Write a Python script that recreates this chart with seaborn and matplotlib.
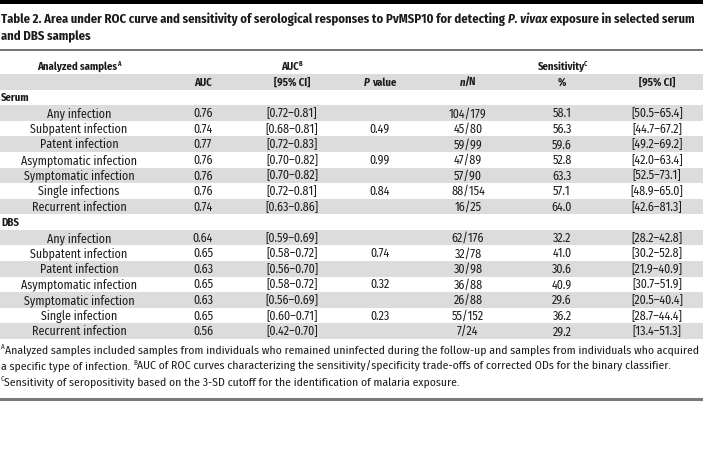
import matplotlib
matplotlib.use("Agg")
import matplotlib.pyplot as plt
from matplotlib import font_manager as fm
import seaborn as sns
import pandas as pd

# Table values
row_labels = ['Any infection', 'Subpatent infection', 'Patent infection',
              'Asymptomatic infection', 'Symptomatic infection']
serum_labels = row_labels + ['Single infections', 'Recurrent infection']
dbs_labels = row_labels + ['Single infection', 'Recurrent infection']

serum_auc = ['0.76', '0.74', '0.77', '0.76', '0.76', '0.76', '0.74']
serum_auc_ci = ['[0.72–0.81]', '[0.68–0.81]', '[0.72–0.83]', '[0.70–0.82]',
                '[0.70–0.82]', '[0.72–0.81]', '[0.63–0.86]']
serum_p = ['', '0.49', '', '0.99', '', '0.84', '']
serum_nN = ['104/179', '45/80', '59/99', '47/89', '57/90', '88/154', '16/25']
serum_pct = ['58.1', '56.3', '59.6', '52.8', '63.3', '57.1', '64.0']
serum_sens_ci = ['[50.5–65.4]', '[44.7–67.2]', '[49.2–69.2]', '[42.0–63.4]',
                 '[52.5–73.1]', '[48.9–65.0]', '[42.6–81.3]']

dbs_auc = ['0.64', '0.65', '0.63', '0.65', '0.63', '0.65', '0.56']
dbs_auc_ci = ['[0.59–0.69]', '[0.58–0.72]', '[0.56–0.70]', '[0.58–0.72]',
              '[0.56–0.69]', '[0.60–0.71]', '[0.42–0.70]']
dbs_p = ['', '0.74', '', '0.32', '', '0.23', '']
dbs_nN = ['62/176', '32/78', '30/98', '36/88', '26/88', '55/152', '7/24']
dbs_pct = ['32.2', '41.0', '30.6', '40.9', '29.6', '36.2', '29.2']
dbs_sens_ci = ['[28.2–42.8]', '[30.2–52.8]', '[21.9–40.9]', '[30.7–51.9]',
               '[20.5–40.4]', '[28.7–44.4]', '[13.4–51.3]']

footnotes = [
    [('A', 'sup'), ('Analyzed samples included samples from individuals who remained uninfected during the follow-up and samples from individuals who acquired', '')],
    [('a specific type of infection. ', ''), ('B', 'sup'), ('AUC of ROC curves characterizing the sensitivity/specificity trade-offs of corrected ODs for the binary classifier.', '')],
    [('C', 'sup'), ('Sensitivity of seropositivity based on the 3-SD cutoff for the identification of malaria exposure.', '')],
]

sns.set_theme(style="white")

# narrow font, closest to the journal face
names = {f.name for f in fm.fontManager.ttflist}
family = 'DejaVu Sans'
for cand in ['Fira Sans Condensed', 'Barlow Semi Condensed', 'Encode Sans Condensed',
             'Asap Condensed', 'Archivo Narrow', 'Liberation Sans Narrow', 'Roboto']:
    if cand in names:
        family = cand
        break
plt.rcParams['font.family'] = [family, 'DejaVu Sans']

ink = '#1c1c1c'
band = '#dcdcdc'

fig = plt.figure(figsize=(7.03, 4.51), dpi=100)
ax = fig.add_axes([0, 0, 1, 1])
ax.set_xlim(0, 703)
ax.set_ylim(451, 0)
ax.axis('off')
fig.canvas.draw()
rend = fig.canvas.get_renderer()


def width(txt, size, weight='normal', style='normal'):
    t = ax.text(0, 0, txt, fontsize=size, fontweight=weight, fontstyle=style)
    w = t.get_window_extent(rend).width
    t.remove()
    return w


def fit(txt, target, weight='normal', style='normal'):
    return 10 * target / width(txt, 10, weight, style)


def rich(x, y, runs, size, weight='normal', ha='left'):
    # y is the visual middle of the capitals
    px = size * 100 / 72
    base = y + 0.345 * px
    sp = width('a a', size, weight) - width('aa', size, weight)
    parts = []
    for run in runs:
        txt, kind = run[0], run[1]
        kern = run[2] if len(run) > 2 else 0
        s = size * 0.6 if kind == 'sup' else size
        st = 'italic' if kind == 'it' else 'normal'
        core = txt.strip(' ')
        lead = len(txt) - len(txt.lstrip(' '))
        trail = len(txt) - len(txt.rstrip(' '))
        w = width(core, s, weight, st) if core else 0
        parts.append((core, s, st, kind, lead * sp + kern, w, trail * sp))
    total = sum(p[4] + p[5] + p[6] for p in parts)
    cur = x - total / 2 if ha == 'center' else x
    for core, s, st, kind, lw, w, tw in parts:
        cur += lw
        dy = -0.42 * px if kind == 'sup' else 0
        if core:
            ax.text(cur, base + dy, core, fontsize=s, fontweight=weight, fontstyle=st,
                    color=ink, ha='left', va='baseline')
        cur += w + tw


# font sizes fitted to the reference widths
title_size = fit('Table 2. Area under ROC curve and sensitivity of serological responses to PvMSP10 for detecting P. vivax exposure in selected serum', 694, 'bold')
body_size = fit('Asymptomatic infection', 116)
head_size = fit('Analyzed samples', 80, 'bold')
foot_size = fit('Analyzed samples included samples from individuals who remained uninfected during the follow-up and samples from individuals who acquired', 690)

# rules
ax.axhspan(0, 4, color='black', lw=0)
ax.axhline(50, color='#6a6a6a', lw=1.3)
ax.axhline(398.5, color='#7a7a7a', lw=2.2)

# title
rich(1, 19, [('Table 2. Area under ROC curve and sensitivity of serological responses to PvMSP10 for detecting ', ''),
             ('P. vivax', 'it'), (' exposure in selected serum', '')], title_size, 'bold')
rich(1, 36, [('and DBS samples', '')], title_size, 'bold')

# columns
cols_x = [203, 292, 380, 468, 562, 657]
label_x = 79
pitch = (331 - 82) / 16
row_y = [82 + i * pitch for i in range(17)]
head1_y = 82 - pitch

for i in range(0, 17, 2):
    ax.axhspan(row_y[i] - pitch / 2, row_y[i] + pitch / 2, color=band, lw=0, zorder=0)

rich(label_x, head1_y, [('Analyzed samples', ''), ('A', 'sup')], head_size, 'bold', 'center')
rich((cols_x[0] + cols_x[2]) / 2, head1_y, [('AUC', ''), ('B', 'sup')], head_size, 'bold', 'center')
rich((cols_x[3] + cols_x[5]) / 2, head1_y, [('Sensitivity', ''), ('C', 'sup', -2)], head_size, 'bold', 'center')

head2 = [[('AUC', '')], [('[95% CI]', '')], [('P', 'it'), (' value', '')],
         [('n', 'it'), ('/N', '', -1.5)], [('%', '')], [('[95% CI]', '')]]
for cx, runs in zip(cols_x, head2):
    rich(cx, row_y[0], runs, head_size, 'bold', 'center')

groups = [
    ('Serum', pd.DataFrame({'label': serum_labels, 'auc': serum_auc, 'auc_ci': serum_auc_ci,
                            'p': serum_p, 'nN': serum_nN, 'pct': serum_pct, 'ci': serum_sens_ci})),
    ('DBS', pd.DataFrame({'label': dbs_labels, 'auc': dbs_auc, 'auc_ci': dbs_auc_ci,
                          'p': dbs_p, 'nN': dbs_nN, 'pct': dbs_pct, 'ci': dbs_sens_ci})),
]

r = 1
for name, df in groups:
    rich(1, row_y[r], [(name, '')], head_size, 'bold')
    r += 1
    for _, row in df.iterrows():
        rich(label_x, row_y[r], [(row['label'], '')], body_size, ha='center')
        for cx, key in zip(cols_x, ['auc', 'auc_ci', 'p', 'nN', 'pct', 'ci']):
            if row[key]:
                rich(cx, row_y[r], [(row[key], '')], body_size, ha='center')
        r += 1

# footnotes
for k, runs in enumerate(footnotes):
    rich(1, 350 + 16 * k, runs, foot_size)

fig.savefig('out.png', dpi=100)
